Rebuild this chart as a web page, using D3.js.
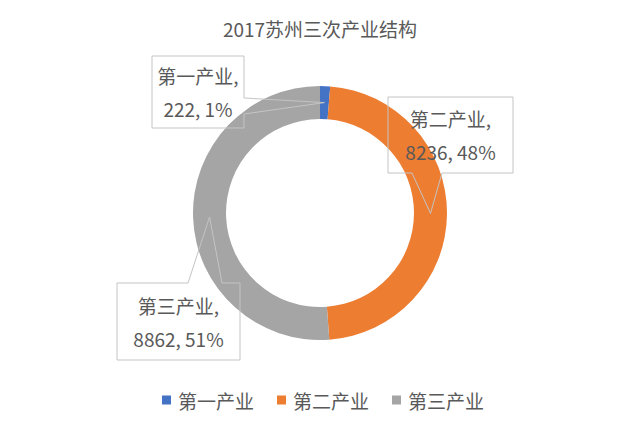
<!DOCTYPE html>
<html>
<head>
<meta charset="utf-8">
<script src="https://cdn.jsdelivr.net/npm/d3@7"></script>
<style>
  html, body { margin: 0; padding: 0; background: #fff; }
  svg { display: block; }
  text { font-family: "Microsoft YaHei", "Noto Sans CJK SC", "Noto Sans", sans-serif; }
</style>
</head>
<body>
<svg id="chart" width="640" height="425"></svg>
<script>
// ---- data ----
const title = "2017苏州三次产业结构";
const categories = ["第一产业", "第二产业", "第三产业"];
const values = [222, 8236, 8862];
const colors = ["#4472C4", "#ED7D31", "#A5A5A5"];

// ---- layout ----
const W = 640, H = 425;
const cx = 320, cy = 213;
const outerR = 127, innerR = 94;
const textColor = "#595959";
const fontSize = 19;
// callout boxes (layout only): rect + pointer side and base offsets along that side
const callouts = [
  { x: 152, y: 56,  w: 92,  h: 72, side: "right",  a: 42, b: 58 },
  { x: 388, y: 97,  w: 125, h: 76, side: "bottom", a: 24, b: 54 },
  { x: 117, y: 283, w: 123, h: 77, side: "top",    a: 71, b: 105 }
];

const svg = d3.select("#chart");

svg.append("text")
  .attr("x", W / 2).attr("y", 28)
  .attr("text-anchor", "middle").attr("dominant-baseline", "central")
  .attr("font-size", fontSize).attr("fill", textColor)
  .text(title);

const total = d3.sum(values);
const data = categories.map((c, i) => ({ cat: c, value: values[i], color: colors[i] }));

const pie = d3.pie().value(d => d.value).sort(null).startAngle(0).endAngle(2 * Math.PI);
const arcs = pie(data);
const arc = d3.arc().innerRadius(innerR).outerRadius(outerR);

const g = svg.append("g").attr("transform", `translate(${cx},${cy})`);
g.selectAll("path.slice").data(arcs).enter().append("path")
  .attr("class", "slice")
  .attr("d", arc)
  .attr("fill", d => d.data.color);

// callouts
function calloutPath(c, tip) {
  const { x, y, w, h, side, a, b } = c;
  const p = d3.path();
  p.moveTo(x, y);
  if (side === "top") { p.lineTo(x + a, y); p.lineTo(tip[0], tip[1]); p.lineTo(x + b, y); }
  p.lineTo(x + w, y);
  if (side === "right") { p.lineTo(x + w, y + a); p.lineTo(tip[0], tip[1]); p.lineTo(x + w, y + b); }
  p.lineTo(x + w, y + h);
  if (side === "bottom") { p.lineTo(x + b, y + h); p.lineTo(tip[0], tip[1]); p.lineTo(x + a, y + h); }
  p.lineTo(x, y + h);
  p.closePath();
  return p.toString();
}

const midArc = d3.arc().innerRadius((innerR + outerR) / 2).outerRadius((innerR + outerR) / 2);
arcs.forEach((d, i) => {
  const c = callouts[i];
  const cen = midArc.centroid(d);
  const tip = [cen[0] + cx, cen[1] + cy];
  svg.append("path")
    .attr("d", calloutPath(c, tip))
    .attr("fill", "none")
    .attr("stroke", "#c4c4c4")
    .attr("stroke-width", 1);
  const pct = Math.round(d.data.value / total * 100);
  const lines = [d.data.cat + ",", `${d.data.value}, ${pct}%`];
  const tx = c.x + c.w / 2, ty = c.y + c.h / 2;
  const spacing = 33;
  lines.forEach((ln, k) => {
    svg.append("text")
      .attr("x", tx)
      .attr("y", ty + (k - 0.5) * spacing)
      .attr("text-anchor", "middle").attr("dominant-baseline", "central")
      .attr("font-size", fontSize).attr("fill", textColor)
      .text(ln);
  });
});

// legend
const legend = svg.append("g");
const step = 115, startX = 162, ly = 400, sq = 9;
data.forEach((d, i) => {
  const lx = startX + i * step;
  legend.append("rect")
    .attr("x", lx).attr("y", ly - sq / 2).attr("width", sq).attr("height", sq)
    .attr("fill", d.color);
  legend.append("text")
    .attr("x", lx + 16).attr("y", ly)
    .attr("dominant-baseline", "central")
    .attr("font-size", fontSize).attr("fill", textColor)
    .text(d.cat);
});
</script>
</body>
</html>
